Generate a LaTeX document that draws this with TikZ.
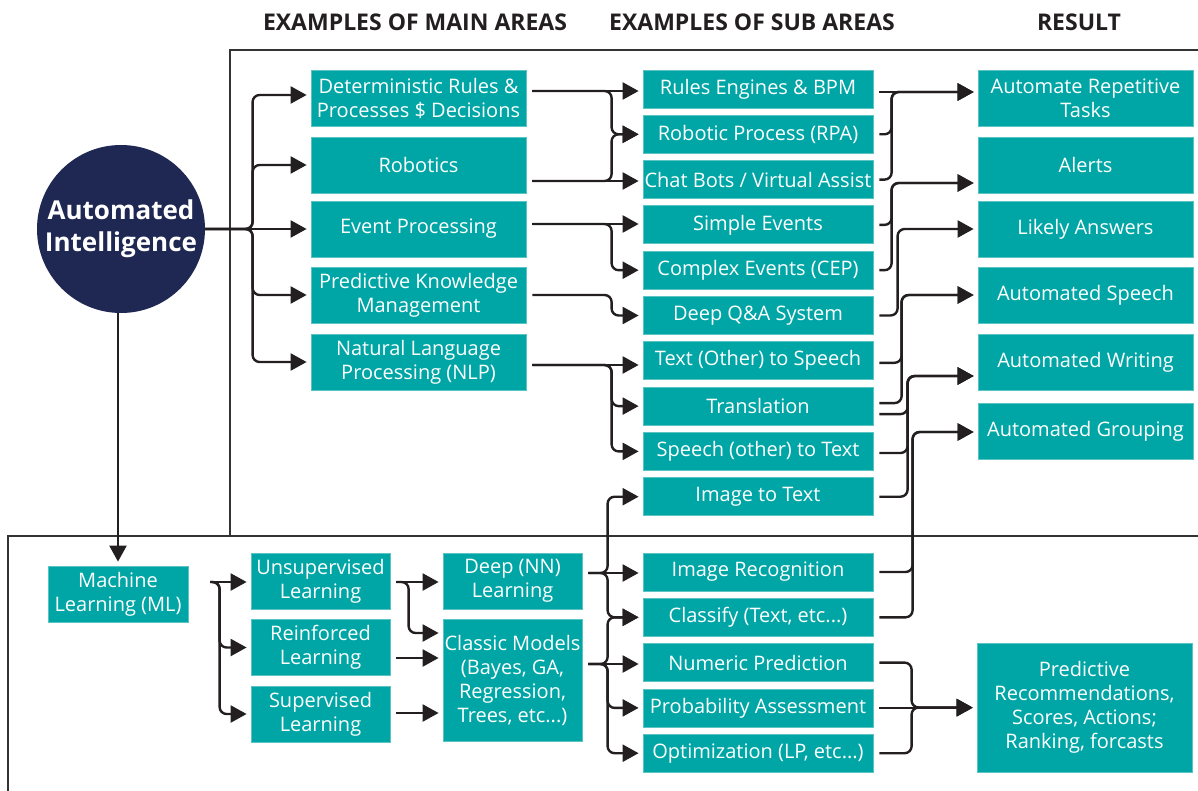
\documentclass[tikz,border=0pt]{standalone}
\usepackage{fontspec}
\setmainfont{Open Sans}
\usetikzlibrary{positioning,arrows.meta}

\definecolor{boxteal}{HTML}{00A6A6}
\definecolor{boxedge}{HTML}{5CC3C3}
\definecolor{navy}{HTML}{1F2753}
\definecolor{ink}{HTML}{231F20}
\definecolor{framegray}{HTML}{333333}

\tikzset{
  box/.style={fill=boxteal, draw=boxedge, line width=0.8pt, text=white,
    align=center, inner sep=0pt, font=\fontsize{20}{24}\selectfont},
  mainbox/.style={box, minimum width=215pt, minimum height=56pt},
  subbox/.style={box, minimum width=230pt, minimum height=38pt},
  learnbox/.style={box, minimum width=139pt, minimum height=56pt},
  conn/.style={draw=ink, line width=2.4pt, rounded corners=7pt,
    shorten <=6pt, shorten >=4pt, -{Triangle[length=16pt,width=17pt]}},
  heading/.style={font=\bfseries\fontsize{23}{26}\selectfont, text=ink},
  frame/.style={draw=framegray, line width=2pt}
}

\begin{document}
\begin{tikzpicture}[x=1pt, y=-1pt, on grid]
    \useasboundingbox (0,0) rectangle (1198,791);

    \node[heading] (h_main) at (415,22) {EXAMPLES OF MAIN AREAS};
    \node[heading] (h_sub) at (752,22) {EXAMPLES OF SUB AREAS};
    \node[heading] (h_res) at (1079,22) {RESULT};

    \draw[frame] (230,536) -- (230,50) -- (1198,50);
    \draw[frame] (8,791) -- (8,536) -- (1198,536);

    \node[circle, fill=navy, minimum size=168pt, inner sep=0pt, text=white, align=center,
      font=\bfseries\fontsize{26}{32}\selectfont] (ai) at (121,229) {Automated\\Intelligence};

    % main areas
    \node[mainbox] (det) at (418.5,98) {Deterministic Rules \&\\Processes \$ Decisions};
    \node[mainbox] (rob) [below=67pt of det] {Robotics};
    \node[mainbox] (evt) [below=64pt of rob] {Event Processing};
    \node[mainbox] (pkm) [below=66pt of evt] {Predictive Knowledge\\Management};
    \node[mainbox] (nlp) [below=67pt of pkm] {Natural Language\\Processing (NLP)};

    % sub areas
    \node[subbox] (rules) at (758,89) {Rules Engines \& BPM};
    \node[subbox] (rpa) [below=45.3pt of rules] {Robotic Process (RPA)};
    \node[subbox] (chat) [below=45.3pt of rpa] {Chat Bots / Virtual Assist};
    \node[subbox] (simple) [below=45.3pt of chat] {Simple Events};
    \node[subbox] (complex) [below=45.3pt of simple] {Complex Events (CEP)};
    \node[subbox] (dqa) [below=45.3pt of complex] {Deep Q\&A System};
    \node[subbox] (tts) [below=45.3pt of dqa] {Text (Other) to Speech};
    \node[subbox] (trans) [below=45.3pt of tts] {Translation};
    \node[subbox] (stt) [below=45.3pt of trans] {Speech (other) to Text};
    \node[subbox] (itt) [below=45.3pt of stt] {Image to Text};

    \node[subbox] (imgrec) at (758,572) {Image Recognition};
    \node[subbox] (classify) [below=45.3pt of imgrec] {Classify (Text, etc...)};
    \node[subbox] (numeric) [below=45.3pt of classify] {Numeric Prediction};
    \node[subbox] (prob) [below=45.3pt of numeric] {Probability Assessment};
    \node[subbox] (opt) [below=45.3pt of prob] {Optimization (LP, etc...)};

    % results
    \node[mainbox] (rep) at (1085.5,98) {Automate Repetitive\\Tasks};
    \node[mainbox] (alerts) [below=67pt of rep] {Alerts};
    \node[mainbox] (likely) [below=64pt of alerts] {Likely Answers};
    \node[mainbox] (speech) [below=66pt of likely] {Automated Speech};
    \node[mainbox] (writing) [below=67pt of speech] {Automated Writing};
    \node[mainbox] (grouping) [below=69pt of writing] {Automated Grouping};
    \node[box, minimum width=215pt, minimum height=129pt] (predres) at (1084.5,707.5)
      {Predictive\\Recommendations,\\Scores, Actions;\\Ranking, forcasts};

    % machine learning
    \node[box, minimum width=140pt, minimum height=56pt] (ml) at (118,594) {Machine\\Learning (ML)};
    \node[learnbox] (unsup) at (320.5,581) {Unsupervised\\Learning};
    \node[learnbox] (reinf) [below=66.5pt of unsup] {Reinforced\\Learning};
    \node[learnbox] (sup) [below=66.5pt of reinf] {Supervised\\Learning};
    \node[learnbox] (deep) at (512.5,581) {Deep (NN)\\Learning};
    \node[box, minimum width=139pt, minimum height=122pt] (classic) at (512.5,680)
      {Classic Models\\(Bayes, GA,\\Regression,\\Trees, etc...)};

    \draw[conn, shorten <=0pt] (ai.east) -| ([xshift=-58pt,yshift=3pt]det.west) -- ([yshift=3pt]det.west);
    \draw[conn, shorten <=0pt] (ai.east) -| ([xshift=-58pt]rob.west) -- (rob.west);
    \draw[conn, shorten <=0pt] (ai.east) -- (evt.west);
    \draw[conn, shorten <=0pt] (ai.east) -| ([xshift=-58pt]pkm.west) -- (pkm.west);
    \draw[conn, shorten <=0pt] (ai.east) -| ([xshift=-58pt]nlp.west) -- (nlp.west);
    \draw[conn, shorten <=0pt] (ml.north |- ai.south) -- (ml.north);

    \draw[conn] ([yshift=7pt]det.east) -- ([yshift=-2pt]rules.west);
    \draw[conn] ([yshift=7pt]det.east) -| ([xshift=-31pt]rpa.west) -- (rpa.west);
    \draw[conn] ([yshift=-16pt]rob.east) -- ([yshift=-1.4pt]chat.west);
    \draw[conn] ([yshift=-16pt]rob.east) -| ([xshift=-31pt]rpa.west) -- (rpa.west);
    \draw[conn] ([yshift=5pt]evt.east) -- ([yshift=0.9pt]simple.west);
    \draw[conn] ([yshift=5pt]evt.east) -| ([xshift=-31pt]complex.west) -- (complex.west);
    \draw[conn] (pkm.east) -| ([xshift=-31pt]dqa.west) -- (dqa.west);
    \draw[conn] ([yshift=-3pt]nlp.east) -- ([yshift=-4.2pt]tts.west);
    \draw[conn] ([yshift=-3pt]nlp.east) -| ([xshift=-31pt]trans.west) -- (trans.west);
    \draw[conn] ([yshift=-3pt]nlp.east) -| ([xshift=-31pt]stt.west) -- (stt.west);

    \draw[conn] ([yshift=-3pt]rules.east) -- ([yshift=6pt]rep.west);
    \draw[conn] (rpa.east) -| ([xshift=-86pt,yshift=6pt]rep.west) -- ([yshift=6pt]rep.west);
    \draw[conn] (chat.east) -| ([xshift=-86pt,yshift=6pt]rep.west) -- ([yshift=6pt]rep.west);
    \draw[conn] (simple.east) -| ([xshift=-86pt,yshift=-18pt]alerts.west) -- ([yshift=-18pt]alerts.west);
    \draw[conn] (complex.east) -| ([xshift=-86pt,yshift=-18pt]alerts.west) -- ([yshift=-18pt]alerts.west);
    \draw[conn] (dqa.east) -| ([xshift=-80pt]likely.west) -- (likely.west);
    \draw[conn] ([yshift=-2pt]tts.east) -| ([xshift=-76pt]speech.west) -- (speech.west);
    \draw[conn] ([yshift=3pt]trans.east) -| ([xshift=-76pt]speech.west) -- (speech.west);
    \draw[conn] ([yshift=-8pt]trans.east) -| ([xshift=-70pt,yshift=-14pt]writing.west) -- ([yshift=-14pt]writing.west);
    \draw[conn] ([yshift=-1.6pt]stt.east) -| ([xshift=-70pt,yshift=-14pt]writing.west) -- ([yshift=-14pt]writing.west);
    \draw[conn] (itt.east) -| ([xshift=-70pt,yshift=-14pt]writing.west) -- ([yshift=-14pt]writing.west);
    \draw[conn] (imgrec.east) -| ([xshift=-65pt,yshift=-1pt]grouping.west) -- ([yshift=-1pt]grouping.west);
    \draw[conn] (classify.east) -| ([xshift=-65pt,yshift=-1pt]grouping.west) -- ([yshift=-1pt]grouping.west);
    \draw[conn] (numeric.east) -| ([xshift=-65pt]predres.west) -- (predres.west);
    \draw[conn] (prob.east) -- (prob.east -| predres.west);
    \draw[conn] (opt.east) -| ([xshift=-65pt]predres.west) -- (predres.west);

    \draw[conn, shorten <=0pt] ([xshift=22pt,yshift=12pt]ml.east) -- ([yshift=-1pt]unsup.west);
    \draw[conn, shorten <=0pt] ([xshift=22pt,yshift=12pt]ml.east) -| ([xshift=-31pt]reinf.west) -- (reinf.west);
    \draw[conn, shorten <=0pt] ([xshift=22pt,yshift=12pt]ml.east) -| ([xshift=-31pt]sup.west) -- (sup.west);
    \draw[conn] ([yshift=-1pt]unsup.east) -- ([yshift=-1pt]deep.west);
    \draw[conn] ([yshift=-1pt]unsup.east) -| ([xshift=-34pt,yshift=47pt]classic.west) -- ([yshift=47pt]classic.west);
    \draw[conn] ([yshift=-10.5pt]reinf.east) -- ([yshift=22pt]classic.west);
    \draw[conn] ([yshift=1pt]sup.east) -- ([yshift=-33pt]classic.west);

    \draw[conn] ([yshift=8pt]deep.east) -| ([xshift=-35pt]itt.west) -- (itt.west);
    \draw[conn] ([yshift=8pt]deep.east) -- ([yshift=-1pt]imgrec.west);
    \draw[conn] ([yshift=8pt]deep.east) -| ([xshift=-35pt]classify.west) -- (classify.west);
    \draw[conn] ([yshift=16pt]classic.east) -| ([xshift=-35pt]classify.west) -- (classify.west);
    \draw[conn] ([yshift=16pt]classic.east) -- ([yshift=-1.4pt]numeric.west);
    \draw[conn] ([yshift=16pt]classic.east) -| ([xshift=-35pt]prob.west) -- (prob.west);
    \draw[conn] ([yshift=16pt]classic.east) -| ([xshift=-35pt]opt.west) -- (opt.west);
\end{tikzpicture}
\end{document}
